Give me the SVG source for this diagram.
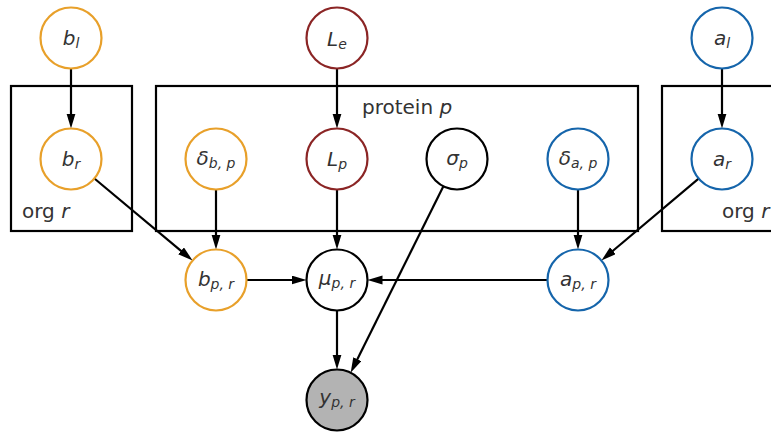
<svg xmlns="http://www.w3.org/2000/svg" width="771" height="432" viewBox="0 0 771 432">
<style>
.n{fill:#fff;stroke-width:2.2}
.o{stroke:#e8a02a}
.r{stroke:#8b2525}
.b{stroke:#1565ab}
.k{stroke:#000}
.obs{fill:#b3b3b3;stroke:#000;stroke-width:2.2}
.plate{fill:none;stroke:#000;stroke-width:2.2}
text{font-family:"DejaVu Sans","Liberation Sans",sans-serif;fill:#333;font-size:20px}
.lbl{text-anchor:middle;font-style:italic}
.s{font-size:14px}
.e{stroke:#000;stroke-width:2.2;fill:none;marker-end:url(#ah)}
</style>
<defs>
<marker id="ah" markerWidth="16" markerHeight="10" refX="5" refY="4.5" orient="auto" markerUnits="userSpaceOnUse">
<path d="M0,0 L15,4.5 L0,9 Z" fill="#000"/>
</marker>
</defs>
<g id="plates">
<rect class="plate" x="11" y="86" width="121" height="145"/>
<rect class="plate" x="156" y="86" width="482" height="145"/>
<rect class="plate" x="662" y="86" width="120" height="145"/>
<text x="22" y="218">org <tspan font-style="italic">r</tspan></text>
<text x="362" y="114">protein <tspan font-style="italic">p</tspan></text>
<text x="722" y="218">org <tspan font-style="italic">r</tspan></text>
</g>
<g id="edges">
<path class="e" d="M71,68.5 V118.5"/>
<path class="e" d="M337,68.5 V118.5"/>
<path class="e" d="M722,68.5 V118.5"/>
<path class="e" d="M94.4,178.5 L184.9,254.1"/>
<path class="e" d="M698.6,178.6 L609.1,254"/>
<path class="e" d="M216,189.5 V239.5"/>
<path class="e" d="M337,189.5 V239.5"/>
<path class="e" d="M578,189.5 V239.5"/>
<path class="e" d="M246.5,280 H296.5"/>
<path class="e" d="M547.5,280 H377.5"/>
<path class="e" d="M337,310.5 V359.5"/>
<path class="e" d="M443.4,186.3 L355.1,363.7"/>
</g>
<g id="b_l"><circle class="n o" cx="71" cy="38" r="30.5"/><text class="lbl" x="71" y="45">b<tspan class="s" dy="3">l</tspan></text></g>
<g id="L_e"><circle class="n r" cx="337" cy="38" r="30.5"/><text class="lbl" x="337" y="45.5">L<tspan class="s" dy="3">e</tspan></text></g>
<g id="a_l"><circle class="n b" cx="722" cy="38" r="30.5"/><text class="lbl" x="722" y="45">a<tspan class="s" dy="3">l</tspan></text></g>
<g id="b_r"><circle class="n o" cx="71" cy="159" r="30.5"/><text class="lbl" x="71" y="166">b<tspan class="s" dy="3">r</tspan></text></g>
<g id="delta_b_p"><circle class="n o" cx="216" cy="159" r="30.5"/><text class="lbl" x="216" y="165">δ<tspan class="s" dy="3">b, p</tspan></text></g>
<g id="L_p"><circle class="n r" cx="337" cy="159" r="30.5"/><text class="lbl" x="337" y="165.5">L<tspan class="s" dy="3">p</tspan></text></g>
<g id="sigma_p"><circle class="n k" cx="457" cy="159" r="30.5"/><text class="lbl" x="457" y="165">σ<tspan class="s" dy="3">p</tspan></text></g>
<g id="delta_a_p"><circle class="n b" cx="578" cy="159" r="30.5"/><text class="lbl" x="578" y="165">δ<tspan class="s" dy="3">a, p</tspan></text></g>
<g id="a_r"><circle class="n b" cx="722" cy="159" r="30.5"/><text class="lbl" x="722" y="166">a<tspan class="s" dy="3">r</tspan></text></g>
<g id="b_p_r"><circle class="n o" cx="216" cy="280" r="30.5"/><text class="lbl" x="216" y="286">b<tspan class="s" dy="3">p, r</tspan></text></g>
<g id="mu_p_r"><circle class="n k" cx="337" cy="280" r="30.5"/><text class="lbl" x="337" y="284.5">μ<tspan class="s" dy="3">p, r</tspan></text></g>
<g id="a_p_r"><circle class="n b" cx="578" cy="280" r="30.5"/><text class="lbl" x="578" y="285.5">a<tspan class="s" dy="3">p, r</tspan></text></g>
<g id="y_p_r"><circle class="obs" cx="337" cy="400" r="30.5"/><text class="lbl" x="337" y="404">y<tspan class="s" dy="3">p, r</tspan></text></g>
</svg>
